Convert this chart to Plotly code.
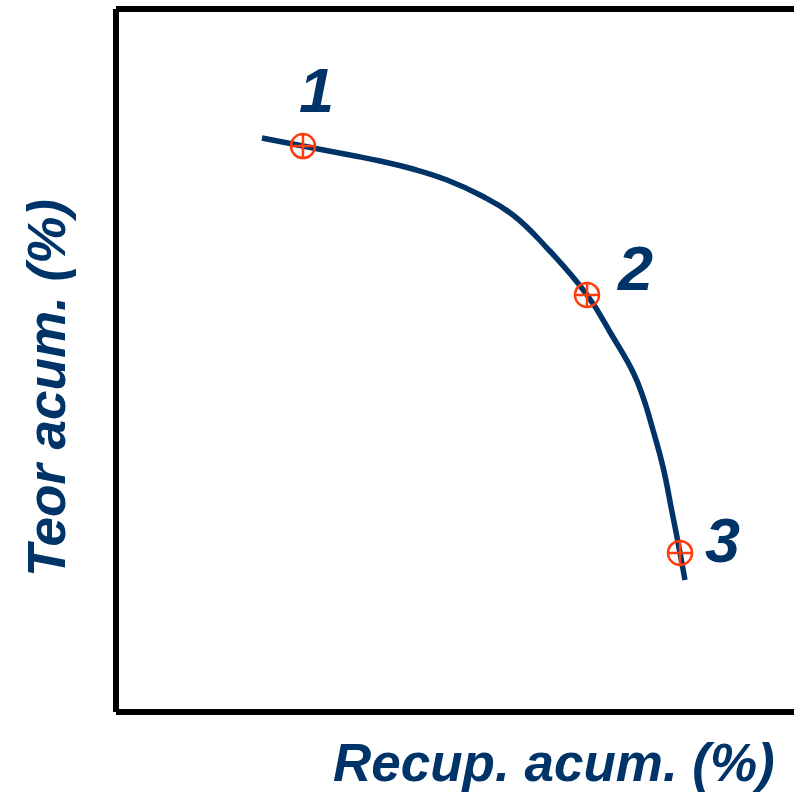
import plotly.graph_objects as go

# Cumulative recovery (%) vs cumulative grade (%) curve
recup_acum = [21.53, 27.58, 34.51, 38.94, 43.81, 48.82, 53.69, 58.55, 63.57, 69.47,
              73.30, 76.25, 77.73, 79.20, 80.68, 82.01, 83.19, 83.92]
teor_acum = [81.65, 80.51, 79.23, 78.38, 77.24, 75.68, 73.54, 70.70, 66.00, 59.32,
             53.34, 48.36, 44.81, 40.11, 34.85, 28.45, 22.62, 18.78]

# Highlighted operating points
punto_labels = ["1", "2", "3"]
punto_recup = [27.58, 69.47, 83.19]
punto_teor = [80.51, 59.32, 22.62]

NAVY = "#003468"
RED = "#FF3B0A"
FONT = "Liberation Sans, Arial, sans-serif"

fig = go.Figure()

fig.add_trace(go.Scatter(
    x=recup_acum, y=teor_acum, mode="lines",
    line=dict(color=NAVY, width=5.5, shape="spline", smoothing=1.3),
    hoverinfo="skip",
))

fig.add_trace(go.Scatter(
    x=punto_recup, y=punto_teor, mode="markers",
    marker=dict(symbol="circle-cross-open", size=24, color=RED,
                line=dict(color=RED, width=2.5)),
    hoverinfo="skip",
))

shifts = [(14, 56), (48, 27), (42, 13)]
for lab, xv, yv, (dx, dy) in zip(punto_labels, punto_recup, punto_teor, shifts):
    fig.add_annotation(
        x=xv, y=yv, xref="x", yref="y", text=lab, showarrow=False,
        xanchor="center", yanchor="middle",
        xshift=dx, yshift=dy,
        font=dict(family=FONT, size=63, color=NAVY, weight="bold", style="italic"),
    )

# Axis titles
fig.add_annotation(
    x=(554 - 116) / 678, y=-(762 - 712) / 703, xref="paper", yref="paper",
    xanchor="center", yanchor="middle",
    text="Recup. acum. (%)", showarrow=False,
    font=dict(family=FONT, size=53, color=NAVY, weight="bold", style="italic"),
)
fig.add_annotation(
    x=-(116 - 46) / 678, y=(712 - 388) / 703, xref="paper", yref="paper",
    xanchor="center", yanchor="middle",
    text="Teor acum. (%)", showarrow=False, textangle=-90,
    font=dict(family=FONT, size=53, color=NAVY, weight="bold", style="italic"),
)

# Frame: left, top and bottom edges
for x0, y0, x1, y1 in [(0, 0, 0, 1), (0, 1, 1.01, 1), (0, 0, 1.01, 0)]:
    fig.add_shape(type="line", xref="paper", yref="paper",
                  x0=x0, y0=y0, x1=x1, y1=y1,
                  line=dict(color="black", width=6))

fig.update_layout(
    width=794, height=794,
    margin=dict(l=116, r=0, t=9, b=82),
    paper_bgcolor="white", plot_bgcolor="white",
    showlegend=False,
    xaxis=dict(range=[0, 100], visible=False, fixedrange=True),
    yaxis=dict(range=[0, 100], visible=False, fixedrange=True),
)

fig.write_html("out.html", config={"displayModeBar": False})
